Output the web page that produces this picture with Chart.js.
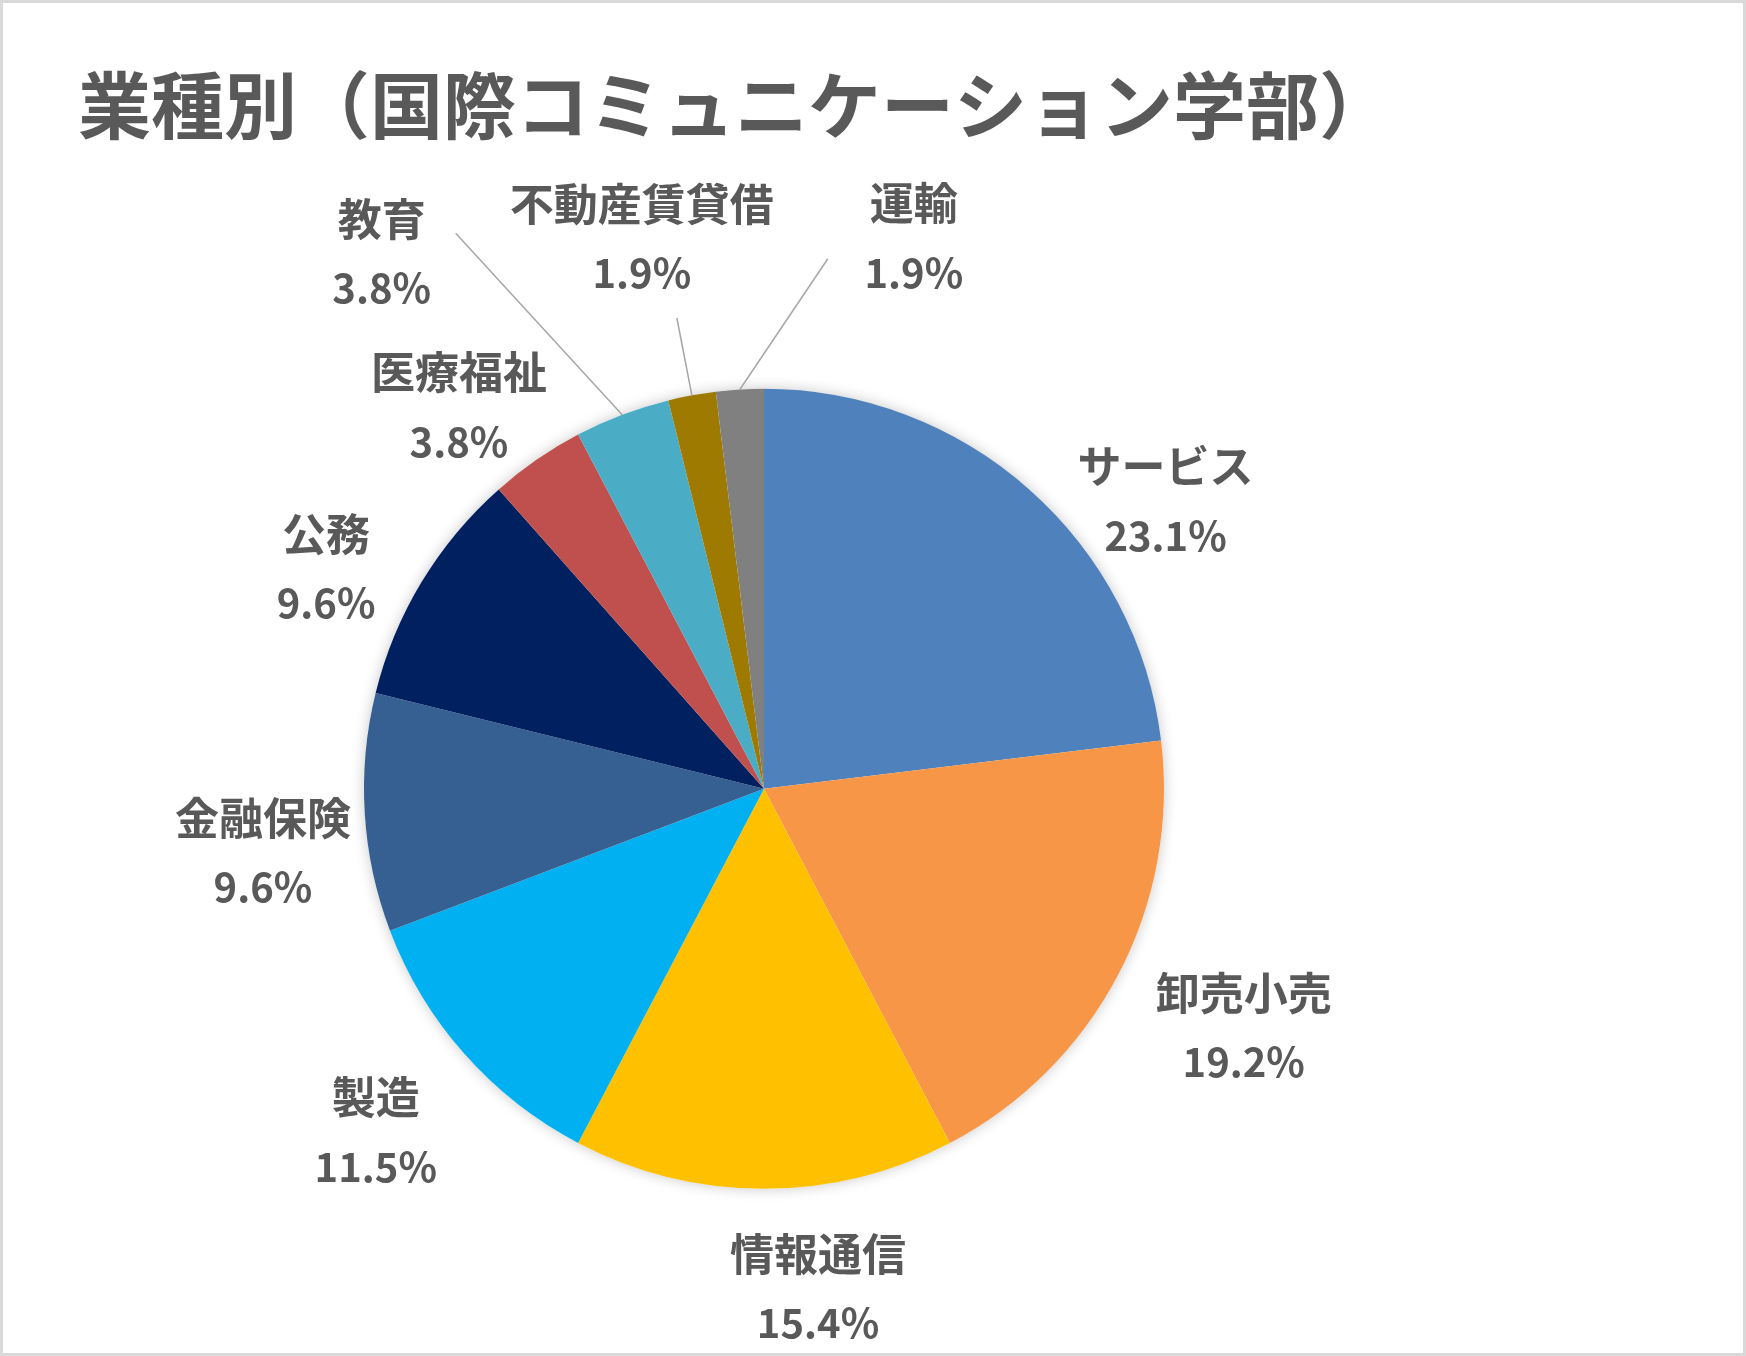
<!DOCTYPE html>
<html>
<head>
<meta charset="utf-8">
<script src="https://cdn.jsdelivr.net/npm/chart.js@4.4.0/dist/chart.umd.min.js"></script>
<style>
html, body { margin: 0; padding: 0; background: #fff; }
#wrap { width: 1746px; height: 1356px; box-sizing: border-box; border: 3px solid #d9d9d9; }
canvas { display: block; }
</style>
</head>
<body>
<div id="wrap"><canvas id="c" width="1740" height="1350"></canvas></div>
<script>
// 業種別 (国際コミュニケーション学部) - 人数
var labels = ["サービス", "卸売小売", "情報通信", "製造", "金融保険", "公務", "医療福祉", "教育", "不動産賃貸借", "運輸"];
var counts = [12, 10, 8, 6, 5, 5, 2, 2, 1, 1];
var colors = ["#4F81BD", "#F79646", "#FFC000", "#00B0F0", "#366092", "#002060", "#C0504D", "#4BACC6", "#9E7A00", "#808080"];

// label nudges from the default spot (1.25 x radius on the slice's mid angle)
var labelNudge = [[70, 86], [37, 6], [54, -1], [-14, 11], [-2, 33], [-10, 38], [-21, 29], [-205, -68], [-32, -59], [180, -52]];
// where the leader line leaves the label (offset from label centre), null = no leader
var leaderFrom = [null, null, null, null, null, null, null, [74, -20], [35, 80], [-86, 21]];

var TEXT = "#595959";
var FONT = "'Noto Sans CJK JP', 'Noto Sans', sans-serif";

var pieShadow = {
	id: 'pieShadow',
	beforeDatasetsDraw: function(chart){
		var arc = chart.getDatasetMeta(0).data[0];
		if (!arc) return;
		var ctx = chart.ctx;
		ctx.save();
		ctx.shadowColor = "rgba(0,0,0,0.22)";
		ctx.shadowBlur = 14;
		ctx.fillStyle = "#ffffff";
		ctx.beginPath();
		ctx.arc(arc.x, arc.y, arc.outerRadius, 0, Math.PI * 2);
		ctx.fill();
		ctx.restore();
	}
};

var sliceLabels = {
	id: 'sliceLabels',
	afterDatasetsDraw: function(chart){
		var ctx = chart.ctx;
		var meta = chart.getDatasetMeta(0);
		var total = counts.reduce(function(a, b){ return a + b; }, 0);
		ctx.save();
		meta.data.forEach(function(arc, i){
			var p = arc.getProps(['x', 'y', 'startAngle', 'endAngle', 'outerRadius'], true);
			var mid = (p.startAngle + p.endAngle) / 2;
			var cx = p.x + Math.cos(mid) * p.outerRadius * 1.25 + labelNudge[i][0];
			var cy = p.y + Math.sin(mid) * p.outerRadius * 1.25 + labelNudge[i][1];

			if (leaderFrom[i]) {
				ctx.strokeStyle = "#a6a6a6";
				ctx.lineWidth = 1.5;
				ctx.beginPath();
				ctx.moveTo(cx + leaderFrom[i][0], cy + leaderFrom[i][1]);
				ctx.lineTo(p.x + Math.cos(mid) * p.outerRadius, p.y + Math.sin(mid) * p.outerRadius);
				ctx.stroke();
			}

			ctx.fillStyle = TEXT;
			ctx.textAlign = "center";
			ctx.textBaseline = "middle";
			ctx.font = "bold 44px " + FONT;
			ctx.fillText(labels[i], cx, cy - 34);
			ctx.font = "bold 40px " + FONT;
			ctx.fillText((counts[i] / total * 100).toFixed(1) + "%", cx, cy + 35);
		});
		ctx.restore();
	}
};

var config = {
	type: 'pie',
	data: {
		labels: labels,
		datasets: [
			{
				data: counts,
				backgroundColor: colors,
				borderWidth: 0,
				hoverOffset: 0,
				radius: 400
			}
		]
	},
	options: {
		responsive: false,
		animation: false,
		events: [],
		layout: {
			padding: { left: 75, right: 293, top: 0, bottom: 164 }
		},
		plugins: {
			legend: { display: false },
			tooltip: { enabled: false },
			title: {
				display: true,
				text: "業種別（国際コミュニケーション学部）",
				align: 'start',
				color: TEXT,
				font: { family: FONT, size: 73, weight: 'bold' },
				padding: { top: 58, bottom: 240 }
			}
		}
	},
	plugins: [pieShadow, sliceLabels]
};

var myChart = new Chart(document.getElementById('c'), config);
</script>
</body>
</html>
